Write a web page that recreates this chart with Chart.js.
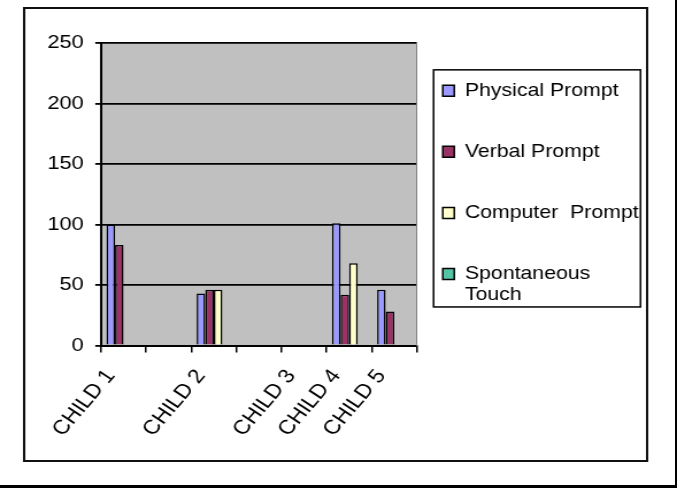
<!DOCTYPE html>
<html>
<head>
<meta charset="utf-8">
<script src="https://cdn.jsdelivr.net/npm/chart.js@4"></script>
<style>
  html, body { margin: 0; padding: 0; background: #fff; }
  #page {
    position: relative; width: 677px; height: 488px; box-sizing: border-box;
    border-right: 2px solid #000; border-bottom: 3px solid #000; overflow: hidden;
  }
  #c { position: absolute; left: 0; top: 0; transform-origin: 0 0; transform: scaleX(1.14941); }
</style>
</head>
<body>
<div id="page"><canvas id="c" width="589" height="488"></canvas></div>
<script>
// Prompt counts per child (empty slots keep the category axis spacing)
const categories = ['CHILD 1', '', 'CHILD 2', '', 'CHILD 3', 'CHILD 4', 'CHILD 5'];
const physicalPrompt    = [100, null, 43, null, 0, 101, 46];
const verbalPrompt      = [83,  null, 46, null, 0, 42,  28];
const computerPrompt    = [0,   null, 46, null, 0, 68,  0];
const spontaneousTouch  = [0,   null, 0,  null, 0, 0,   0];
const seriesNames = ['Physical Prompt', 'Verbal Prompt', 'Computer  Prompt', 'Spontaneous Touch'];
const legendLines = [['Physical Prompt', ''], ['Verbal Prompt', ''], ['Computer  Prompt', ''], ['Spontaneous', 'Touch']];
const seriesColors = ['#9999FF', '#993366', '#FFFFCC', '#55C4A6'];
const yTicks = { min: 0, max: 250, step: 50 };

const family = '"Liberation Sans", Arial, sans-serif';

const framePlugin = {
  id: 'framePlugin',
  beforeDraw(chart) {
    const { ctx, chartArea: a } = chart;
    ctx.save();
    ctx.fillStyle = '#fff';
    ctx.fillRect(0, 0, chart.width, chart.height);
    ctx.strokeStyle = '#111';
    ctx.lineWidth = 2;
    ctx.strokeRect(21, 8, 542, 453);
    ctx.fillStyle = '#c0c0c0';
    ctx.fillRect(a.left, a.top, a.right - a.left, a.bottom - a.top);
    ctx.restore();
  },
  afterDraw(chart) {
    const boxes = chart.legend && chart.legend.legendHitBoxes;
    if (!boxes || !boxes.length) return;
    const { ctx } = chart;
    const first = boxes[0], last = boxes[boxes.length - 1];
    const left = first.left - 8, top = first.top - 11.7, bottom = last.top + last.height;
    ctx.save();
    ctx.strokeStyle = '#000';
    ctx.lineWidth = 1.5;
    ctx.strokeRect(left, top, 180, bottom - top);
    ctx.restore();
  }
};

const values = [physicalPrompt, verbalPrompt, computerPrompt, spontaneousTouch];

new Chart(document.getElementById('c'), {
  type: 'bar',
  data: {
    labels: categories,
    datasets: values.map((v, i) => ({
      label: seriesNames[i],
      data: v,
      backgroundColor: seriesColors[i],
      borderColor: '#000',
      borderWidth: 1.5,
      categoryPercentage: 0.76,
      barPercentage: 1.0
    }))
  },
  options: {
    responsive: false,
    animation: false,
    layout: { padding: { left: 37.9, top: 43, right: 23.4, bottom: 42.5 } },
    plugins: {
      tooltip: { enabled: false },
      legend: {
        position: 'right',
        fullSize: false,
        maxWidth: 200,
        labels: {
          boxWidth: 10,
          boxHeight: 11,
          padding: 18.9,
          color: '#000',
          font: { family, size: 18.5, lineHeight: 1.14 },
          generateLabels(chart) {
            const items = Chart.defaults.plugins.legend.labels.generateLabels(chart);
            items.forEach((it, i) => { it.text = legendLines[i]; });
            return items;
          }
        }
      }
    },
    scales: {
      x: {
        offset: true,
        grid: { offset: true, drawOnChartArea: false, drawTicks: true, tickLength: 7, color: '#000', lineWidth: 1.5 },
        border: { display: true, color: '#000', width: 2 },
        ticks: { autoSkip: false, minRotation: 53, maxRotation: 53, padding: 12.6, labelOffset: -11.2, color: '#000', font: { family, size: 20 } },
        afterFit(s) { s.height = 100; }
      },
      y: {
        min: yTicks.min,
        max: yTicks.max,
        ticks: { stepSize: yTicks.step, padding: 10, color: '#000', font: { family, size: 19 } },
        grid: { color: '#000', lineWidth: 1.8, tickLength: 5, drawTicks: true },
        border: { color: '#000', width: 2 },
        afterFit(s) { s.width = 50; }
      },
      yR: {
        type: 'linear',
        position: 'right',
        grid: { display: false },
        ticks: { display: false },
        border: { display: true, color: '#808080', width: 1 },
        afterFit(s) { s.width = 3.7; }
      }
    }
  },
  plugins: [framePlugin]
});
</script>
</body>
</html>
